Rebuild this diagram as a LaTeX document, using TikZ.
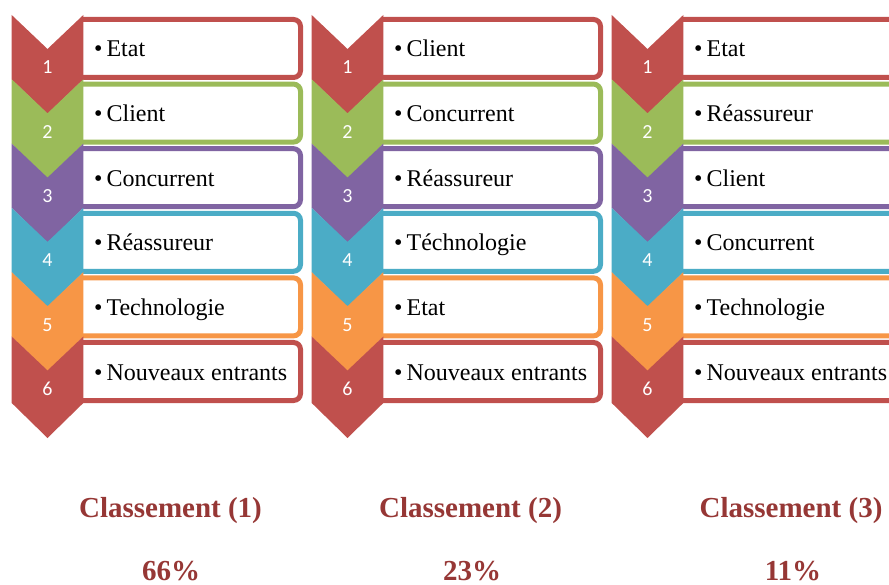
\documentclass[tikz,border=0pt]{standalone}
\usepackage{fontspec}
\setmainfont{Liberation Serif}
\newfontfamily\numfont{Carlito}

\definecolor{cRed}{HTML}{C0504D}
\definecolor{cGreen}{HTML}{9BBB59}
\definecolor{cPurple}{HTML}{8064A2}
\definecolor{cAqua}{HTML}{4BACC6}
\definecolor{cOrange}{HTML}{F79646}
\definecolor{cTitle}{RGB}{150,55,53}

\tikzset{
  itembox/.style={line width=5pt, rounded corners=7pt},
  itemtext/.style={anchor=base west, inner sep=0pt, font=\fontsize{24}{28}\selectfont},
  chevnum/.style={text=white, inner sep=0pt, font=\numfont\fontsize{20}{24}\selectfont},
  ranktitle/.style={anchor=base, inner sep=0pt, text=cTitle, font=\fontsize{29}{34}\selectfont\bfseries},
}

% one ranked column: x offset, name prefix, six items
\newcommand{\rankcolumn}[8]{%
  \begin{scope}[xshift=#1pt]
    % framed item boxes (left side tucked under the chevrons)
    \foreach \k/\c/\txt in {1/cRed/{#3},2/cGreen/{#4},3/cPurple/{#5},4/cAqua/{#6},5/cOrange/{#7},6/cRed/{#8}}{
      \pgfmathsetmacro{\bt}{17+64.6*(\k-1)}
      \fill[white] (82,\bt+2.5) rectangle (300.5,\bt+60.5);
      \draw[itembox, draw=\c] (82,\bt+2.5) -- (300.5,\bt+2.5) -- (300.5,\bt+60.5) -- (82,\bt+60.5);
      \node[itemtext] (#2-t\k) at (94,\bt+40) {\textbullet\hspace{4pt}\txt};
    }
    % numbered chevrons
    \foreach \k/\c in {1/cRed,2/cGreen,3/cPurple,4/cAqua,5/cOrange,6/cRed}{
      \pgfmathsetmacro{\ct}{15+64.3*(\k-1)}
      \pgfmathsetmacro{\ch}{ifthenelse(\k==6,66.5,64.3)}
      \fill[\c] (11.7,\ct) -- (47.5,\ct+34) -- (83.3,\ct) -- (83.3,\ct+\ch)
        -- (47.5,\ct+\ch+35) -- (11.7,\ct+\ch) -- cycle;
      \node[chevnum] (#2-n\k) at (47.5,\ct+52.5) {\k};
    }
  \end{scope}
}

\begin{document}
\begin{tikzpicture}[x=1pt,y=-1pt]
  \useasboundingbox (0,0) rectangle (889,585);
  \clip (0,0) rectangle (889,585);

  \rankcolumn{0}{a}{Etat}{Client}{Concurrent}{Réassureur}{Technologie}{Nouveaux entrants}
  \rankcolumn{300}{b}{Client}{Concurrent}{Réassureur}{Téchnologie}{Etat}{Nouveaux entrants}
  \rankcolumn{600}{c}{Etat}{Réassureur}{Client}{Concurrent}{Technologie}{Nouveaux entrants}

  \node[ranktitle] (r1) at (170.5,517) {Classement (1)};
  \node[ranktitle] (r2) at (470.5,517) {Classement (2)};
  \node[ranktitle] (r3) at (791,517) {Classement (3)};

  \node[ranktitle] (p1) at (171,580) {66\%};
  \node[ranktitle] (p2) at (472,580) {23\%};
  \node[ranktitle] (p3) at (793,580) {11\%};
\end{tikzpicture}
\end{document}
